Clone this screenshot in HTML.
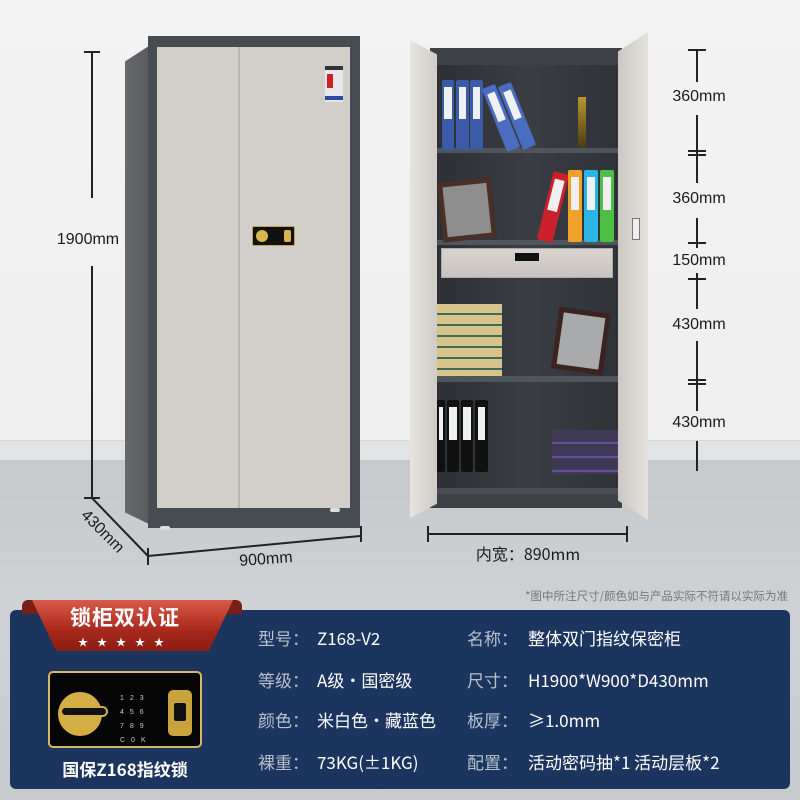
<!DOCTYPE html>
<html><head><meta charset="utf-8"><style>
*{margin:0;padding:0;box-sizing:border-box}
body{width:800px;height:800px;overflow:hidden;position:relative;font-family:"Liberation Sans","Noto Sans CJK SC",sans-serif;background:#f1f1f1}
.a{position:absolute}
.t{position:absolute;color:#1a1a1a;font-size:16px;white-space:nowrap;transform:translate(-50%,-50%)}
.lab,.val{position:absolute;font-size:17px;line-height:22px;white-space:nowrap;font-family:"Noto Sans CJK SC",sans-serif}
.lab{color:#b9c0cc}
.val{color:#fff}
.bind{position:absolute;border-radius:2px}
.bind::after{content:"";position:absolute;left:20%;right:20%;top:10%;height:45%;background:#eef0f2}
</style></head><body>
<div class="a" style="left:0;top:0;width:800px;height:440px;background:linear-gradient(#f3f3f3,#efefef)"></div>
<div class="a" style="left:0;top:440px;width:800px;height:20px;background:#e2e3e4;border-top:1px solid #d6d6d6"></div>
<div class="a" style="left:0;top:460px;width:800px;height:340px;background:linear-gradient(#c6c9cc,#cfd2d4 150px,#c7cacd)"></div>

<!-- left cabinet -->
<div class="a" style="left:125px;top:42px;width:30px;height:485px;background:linear-gradient(90deg,#66686c,#55585c);clip-path:polygon(0 4%,100% 0,100% 100%,0 97%)"></div>
<div class="a" style="left:148px;top:36px;width:212px;height:492px;background:#474b52"></div>
<div class="a" style="left:157px;top:47px;width:193px;height:461px;background:#d2ceca"></div>
<div class="a" style="left:238px;top:47px;width:2px;height:461px;background:#b9b5b1"></div>
<div class="a" style="left:325px;top:66px;width:18px;height:36px;background:#e6e8ee;border-top:4px solid #333"></div>
<div class="a" style="left:327px;top:74px;width:6px;height:14px;background:#c22"></div>
<div class="a" style="left:325px;top:96px;width:18px;height:4px;background:#2d4a9c"></div>
<div class="a" style="left:252px;top:226px;width:43px;height:20px;background:#111;border:1px solid #c8a24a;border-radius:2px"></div>
<div class="a" style="left:256px;top:230px;width:12px;height:12px;background:#d9b64d;border-radius:50%"></div>
<div class="a" style="left:284px;top:230px;width:7px;height:12px;background:#d9b64d;border-radius:2px"></div>
<div class="a" style="left:160px;top:526px;width:10px;height:4px;background:#ddd;border-radius:3px"></div>
<div class="a" style="left:330px;top:508px;width:10px;height:4px;background:#ddd;border-radius:3px"></div>

<!-- left dims -->
<div class="a" style="left:91px;top:52px;width:2px;height:146px;background:#222"></div>
<div class="a" style="left:91px;top:266px;width:2px;height:232px;background:#222"></div>
<div class="a" style="left:84px;top:51px;width:16px;height:2px;background:#222"></div>
<div class="a" style="left:84px;top:497px;width:16px;height:2px;background:#222"></div>
<div class="t" style="left:88px;top:240px">1900mm</div>
<svg class="a" style="left:0;top:0" width="800" height="800"><g stroke="#222" stroke-width="2" fill="none"><line x1="92" y1="498" x2="148" y2="556"/><line x1="148" y1="556" x2="360" y2="536"/><line x1="148" y1="548" x2="148" y2="565"/><line x1="361" y1="526" x2="361" y2="542"/></g></svg>
<div class="t" style="left:102px;top:532px;transform:translate(-50%,-50%) rotate(45deg)">430mm</div>
<div class="t" style="left:266px;top:560px;transform:translate(-50%,-50%) rotate(-4deg)">900mm</div>

<!-- right cabinet -->
<div class="a" style="left:430px;top:48px;width:192px;height:460px;background:#3e4247"></div>
<div class="a" style="left:437px;top:65px;width:181px;height:425px;background:linear-gradient(90deg,#2c3035,#3a3e44 50%,#2f3338)"></div>
<div class="a" style="left:437px;top:148px;width:181px;height:5px;background:#50555b"></div>
<div class="a" style="left:437px;top:240px;width:181px;height:5px;background:#50555b"></div>
<div class="a" style="left:441px;top:248px;width:172px;height:30px;background:linear-gradient(#d9d4cf,#c8c3be);border:1px solid #aaa"></div>
<div class="a" style="left:515px;top:253px;width:24px;height:8px;background:#111"></div>
<div class="a" style="left:437px;top:376px;width:181px;height:6px;background:#50555b"></div>
<div class="a" style="left:437px;top:488px;width:181px;height:6px;background:#4a4e54"></div>
<div class="bind" style="left:442px;top:80px;width:12px;height:70px;background:#3b5ba8"></div>
<div class="bind" style="left:456px;top:80px;width:13px;height:70px;background:#3b5ba8"></div>
<div class="bind" style="left:470px;top:80px;width:13px;height:70px;background:#3b5ba8"></div>
<div class="bind" style="left:494px;top:84px;width:14px;height:68px;background:#4a6dc0;transform:rotate(-22deg)"></div>
<div class="bind" style="left:510px;top:82px;width:14px;height:68px;background:#4a6dc0;transform:rotate(-22deg)"></div>
<div class="a" style="left:578px;top:97px;width:8px;height:50px;background:linear-gradient(#b9982f,#4b3d13)"></div>
<div class="a" style="left:440px;top:180px;width:54px;height:60px;background:#4a2e28;transform:rotate(-6deg)"></div>
<div class="a" style="left:445px;top:185px;width:44px;height:50px;background:#8e8e8e;transform:rotate(-6deg)"></div>
<div class="bind" style="left:545px;top:172px;width:16px;height:70px;background:#c9202b;transform:rotate(14deg)"></div>
<div class="bind" style="left:568px;top:170px;width:14px;height:72px;background:#f0a12a"></div>
<div class="bind" style="left:584px;top:170px;width:14px;height:72px;background:#2bb4e4"></div>
<div class="bind" style="left:600px;top:170px;width:14px;height:72px;background:#4cbf44"></div>
<div class="a" style="left:437px;top:304px;width:65px;height:72px;background:repeating-linear-gradient(#d6c48a 0 9px,#3f6b53 9px 11px)"></div>
<div class="a" style="left:555px;top:310px;width:52px;height:62px;background:#3a2320;transform:rotate(8deg)"></div>
<div class="a" style="left:560px;top:315px;width:42px;height:52px;background:#a9aaab;transform:rotate(8deg)"></div>
<div class="bind" style="left:437px;top:400px;width:8px;height:72px;background:#111"></div>
<div class="bind" style="left:447px;top:400px;width:12px;height:72px;background:#111"></div>
<div class="bind" style="left:461px;top:400px;width:12px;height:72px;background:#111"></div>
<div class="bind" style="left:475px;top:400px;width:13px;height:72px;background:#111"></div>
<div class="a" style="left:552px;top:430px;width:66px;height:44px;background:repeating-linear-gradient(#3f3a55 0 12px,#6a4fa0 12px 14px)"></div>
<div class="a" style="left:410px;top:40px;width:27px;height:478px;background:linear-gradient(90deg,#e7e4df,#cfcbc6);clip-path:polygon(0 0,100% 3%,100% 97%,0 100%)"></div>
<div class="a" style="left:618px;top:32px;width:30px;height:488px;background:linear-gradient(90deg,#cbc7c2,#e5e2dd);clip-path:polygon(0 4%,100% 0,100% 100%,0 96%)"></div>
<div class="a" style="left:632px;top:218px;width:8px;height:22px;background:#eee;border:1px solid #777"></div>

<!-- right dims -->
<div class="a" style="left:696px;top:50px;width:2px;height:32px;background:#222"></div>
<div class="a" style="left:696px;top:115px;width:2px;height:68px;background:#222"></div>
<div class="a" style="left:696px;top:218px;width:2px;height:30px;background:#222"></div>
<div class="a" style="left:696px;top:273px;width:2px;height:36px;background:#222"></div>
<div class="a" style="left:696px;top:341px;width:2px;height:70px;background:#222"></div>
<div class="a" style="left:696px;top:441px;width:2px;height:30px;background:#222"></div>
<div class="a" style="left:688px;top:49px;width:18px;height:2px;background:#222"></div>
<div class="a" style="left:688px;top:150px;width:18px;height:2px;background:#222"></div>
<div class="a" style="left:688px;top:154px;width:18px;height:2px;background:#222"></div>
<div class="a" style="left:688px;top:242px;width:18px;height:2px;background:#222"></div>
<div class="a" style="left:688px;top:278px;width:18px;height:2px;background:#222"></div>
<div class="a" style="left:688px;top:379px;width:18px;height:2px;background:#222"></div>
<div class="a" style="left:688px;top:383px;width:18px;height:2px;background:#222"></div>
<div class="t" style="left:699px;top:97px">360mm</div>
<div class="t" style="left:699px;top:199px">360mm</div>
<div class="t" style="left:699px;top:261px">150mm</div>
<div class="t" style="left:699px;top:325px">430mm</div>
<div class="t" style="left:699px;top:423px">430mm</div>

<div class="a" style="left:428px;top:533px;width:199px;height:2px;background:#222"></div>
<div class="a" style="left:427px;top:526px;width:2px;height:16px;background:#222"></div>
<div class="a" style="left:626px;top:526px;width:2px;height:16px;background:#222"></div>
<div class="t" style="left:528px;top:553px;font-family:'Noto Sans CJK SC',sans-serif">内宽：890mm</div>
<div class="a" style="right:12px;top:588px;font-size:11.5px;color:#777;white-space:nowrap;font-family:'Noto Sans CJK SC',sans-serif">*图中所注尺寸/颜色如与产品实际不符请以实际为准</div>

<!-- panel -->
<div class="a" style="left:10px;top:610px;width:780px;height:179px;background:#1c355f;border-radius:6px"></div>
<div class="a" style="left:22px;top:600px;width:220px;height:14px;background:#7a1f18;border-radius:6px 6px 0 0"></div>
<div class="a" style="left:32px;top:600px;width:201px;height:51px;background:linear-gradient(#d95a48,#a8281c 60%,#8a1d14);clip-path:polygon(0 0,100% 0,88% 100%,12% 100%)"></div>
<div class="a" style="left:70px;top:602px;font-size:21px;font-weight:bold;color:#fff;letter-spacing:1px;font-family:'Noto Sans CJK SC',sans-serif">锁柜双认证</div>
<div class="a" style="left:78px;top:634px;font-size:10px;color:#fff;letter-spacing:9px">★★★★★</div>
<div class="a" style="left:48px;top:671px;width:154px;height:77px;background:#050505;border:2px solid #d8b860;border-radius:5px"></div>
<div class="a" style="left:58px;top:692px;width:44px;height:44px;background:#d3ae45;border-radius:50%"></div>
<div class="a" style="left:60px;top:706px;width:48px;height:11px;background:#111;border:2px solid #d3ae45;border-radius:6px"></div>
<div class="a" style="left:168px;top:690px;width:24px;height:46px;background:#c9a33d;border-radius:5px"></div>
<div class="a" style="left:174px;top:703px;width:12px;height:18px;background:#111;border-radius:2px"></div>
<div class="a" style="left:120px;top:692px;font-size:7px;color:#ccc;line-height:14px;letter-spacing:6px;white-space:pre">123
456
789
C0K</div>
<div class="a" style="left:30px;top:756px;width:190px;text-align:center;font-size:17px;font-weight:bold;color:#fff;font-family:'Noto Sans CJK SC',sans-serif">国保Z168指纹锁</div>

<div class="lab" style="left:258px;top:627px">型号：</div><div class="val" style="left:317px;top:627px">Z168-V2</div>
<div class="lab" style="left:467px;top:627px">名称：</div><div class="val" style="left:528px;top:627px">整体双门指纹保密柜</div>
<div class="lab" style="left:258px;top:669px">等级：</div><div class="val" style="left:317px;top:669px">A级·国密级</div>
<div class="lab" style="left:467px;top:669px">尺寸：</div><div class="val" style="left:528px;top:669px">H1900*W900*D430mm</div>
<div class="lab" style="left:258px;top:709px">颜色：</div><div class="val" style="left:317px;top:709px">米白色·藏蓝色</div>
<div class="lab" style="left:467px;top:709px">板厚：</div><div class="val" style="left:528px;top:709px">≥1.0mm</div>
<div class="lab" style="left:258px;top:751px">裸重：</div><div class="val" style="left:317px;top:751px">73KG(±1KG)</div>
<div class="lab" style="left:467px;top:751px">配置：</div><div class="val" style="left:528px;top:751px">活动密码抽*1 活动层板*2</div>
</body></html>
